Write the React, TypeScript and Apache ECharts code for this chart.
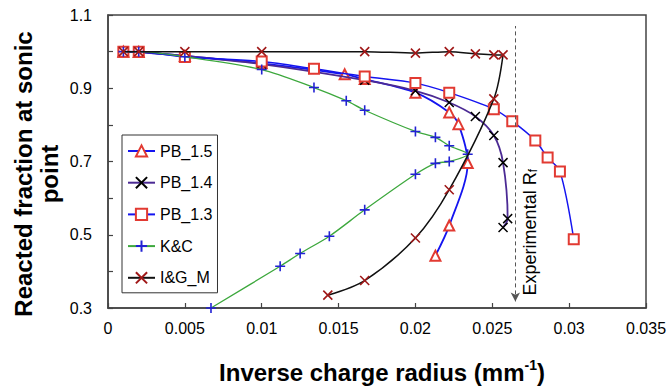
import React, { useEffect, useRef } from "react";
import * as echarts from "echarts";

// ---- data ----
const pb15X = [0.001, 0.002, 0.005, 0.01, 0.0154, 0.0167, 0.02, 0.0222, 0.0228, 0.0234, 0.0222, 0.0213];
const pb15Y = [1.0, 0.999, 0.988, 0.968, 0.938, 0.925, 0.888, 0.834, 0.802, 0.696, 0.525, 0.443];

const pb14X = [0.001, 0.002, 0.005, 0.01, 0.0167, 0.02, 0.0222, 0.0239, 0.0251, 0.0257, 0.026, 0.0257];
const pb14Y = [1.0, 0.999, 0.988, 0.966, 0.922, 0.893, 0.861, 0.823, 0.771, 0.697, 0.544, 0.52];

const pb13X = [0.001, 0.002, 0.005, 0.01, 0.0134, 0.0167, 0.02, 0.0222, 0.0251, 0.0263, 0.0278, 0.0286, 0.0294, 0.0303];
const pb13Y = [1.0, 1.0, 0.985, 0.973, 0.953, 0.932, 0.914, 0.888, 0.843, 0.81, 0.757, 0.711, 0.673, 0.488];

const kcX = [0.001, 0.002, 0.005, 0.01, 0.0134, 0.0155, 0.0167, 0.02, 0.0213, 0.0222, 0.0234, 0.0222, 0.0213, 0.02, 0.0167, 0.0144, 0.0125, 0.0112, 0.0067];
const kcY = [1.0, 1.0, 0.986, 0.951, 0.902, 0.866, 0.84, 0.782, 0.766, 0.743, 0.72, 0.7, 0.695, 0.665, 0.568, 0.496, 0.449, 0.414, 0.3];

const igX = [0.001, 0.002, 0.005, 0.01, 0.0167, 0.02, 0.0222, 0.0239, 0.0251, 0.0257, 0.0251, 0.0222, 0.02, 0.0167, 0.0143];
const igY = [1.0, 1.0, 1.0, 1.0, 1.0, 0.996, 1.0, 0.994, 0.991, 0.991, 0.871, 0.623, 0.491, 0.375, 0.335];

const seriesNames = ["PB_1.5", "PB_1.4", "PB_1.3", "K&C", "I&G_M"];
const yTickLabels = ["0.3", "0.5", "0.7", "0.9", "1.1"];

const rfX = 0.0265;
const rfYTop = 1.07;
const rfYBottom = 0.318;

const FONT = '"Liberation Sans", Arial, sans-serif';
const pair = (xs: number[], ys: number[]) => xs.map((x, i) => [x, ys[i]]);

const CROSS = "path://M0,0L10,10M10,0L0,10";
const PLUS = "path://M5,0L5,10M0,5L10,5";

export default function App() {
  const ref = useRef<HTMLDivElement>(null);
  useEffect(() => {
    if (!ref.current) return;
    const chart = echarts.init(ref.current, null, { renderer: "svg" });
    const red = "#E23A32";
    const option: any = {
      animation: false,
      backgroundColor: "#fff",
      grid: { left: 108, right: 26, top: 15, bottom: 78, show: true, borderColor: "#444", borderWidth: 1.5 },
      xAxis: {
        type: "value",
        min: 0,
        max: 0.035,
        interval: 0.005,
        axisLine: { show: true, lineStyle: { color: "#444", width: 1.5 } },
        axisTick: { show: true, inside: true, length: 5, lineStyle: { color: "#444", width: 1.2 } },
        axisLabel: { color: "#000", fontSize: 16, fontFamily: FONT, margin: 12 },
        splitLine: { show: false },
      },
      yAxis: {
        type: "value",
        min: 0.3,
        max: 1.1,
        interval: 0.1,
        axisLine: { show: true, lineStyle: { color: "#444", width: 1.5 } },
        axisTick: { show: true, inside: true, length: 5, lineStyle: { color: "#444", width: 1.2 } },
        axisLabel: {
          color: "#000",
          fontSize: 16,
          fontFamily: FONT,
          margin: 16,
          formatter: (v: number) => {
            const s = v.toFixed(1);
            return yTickLabels.includes(s) ? s : "";
          },
        },
        splitLine: { show: false },
      },
      legend: {
        orient: "vertical",
        left: 122,
        top: 135,
        data: seriesNames,
        backgroundColor: "#fff",
        borderColor: "#333",
        borderWidth: 1,
        padding: [8, 5, 7, 5],
        itemGap: 15.7,
        itemWidth: 27,
        itemHeight: 14,
        textStyle: { fontSize: 16, fontFamily: FONT, color: "#000" },
      },
      series: [
        {
          name: "PB_1.5",
          type: "line",
          data: pair(pb15X, pb15Y),
          smooth: 0.3,
          symbol: "emptyTriangle",
          symbolSize: 10,
          lineStyle: { color: "#1414F0", width: 1.8 },
          itemStyle: { color: red, borderColor: red, borderWidth: 1.3 },
          z: 2,
        },
        {
          name: "PB_1.4",
          type: "line",
          data: pair(pb14X, pb14Y),
          smooth: 0.3,
          symbol: CROSS,
          symbolSize: 9,
          lineStyle: { color: "#4B2A94", width: 1.8 },
          itemStyle: { color: "#000", borderColor: "#000", borderWidth: 1.5 },
          z: 3,
        },
        {
          name: "PB_1.3",
          type: "line",
          data: pair(pb13X, pb13Y),
          smooth: 0.3,
          symbol: "emptyRect",
          symbolSize: 10,
          lineStyle: { color: "#1414F0", width: 1.5 },
          itemStyle: { color: red, borderColor: red, borderWidth: 1.3 },
          z: 4,
          markLine: {
            silent: true,
            symbol: ["arrow", "none"],
            symbolSize: [7, 9],
            lineStyle: { color: "#555", type: [4, 3], width: 1 },
            label: {
              show: true,
              position: "insideStartBottom",
              distance: 6,
              formatter: "{a|Experimental R}{b|f}",
              rich: {
                a: { fontSize: 18, fontFamily: FONT, color: "#000" },
                b: { fontSize: 12, fontFamily: FONT, color: "#000", verticalAlign: "bottom" },
              },
            },
            data: [[{ coord: [rfX, rfYBottom] }, { coord: [rfX, rfYTop] }]],
          },
        },
        {
          name: "K&C",
          type: "line",
          data: pair(kcX, kcY),
          smooth: 0.3,
          symbol: PLUS,
          symbolSize: 10,
          lineStyle: { color: "#3DA83D", width: 1.3 },
          itemStyle: { color: "#2222D4", borderColor: "#2222D4", borderWidth: 1.6 },
          z: 5,
        },
        {
          name: "I&G_M",
          type: "line",
          data: pair(igX, igY),
          smooth: 0.3,
          symbol: CROSS,
          symbolSize: 9,
          lineStyle: { color: "#111", width: 1.5 },
          itemStyle: { color: "#A01818", borderColor: "#A01818", borderWidth: 1.6 },
          z: 6,
        },
      ],
      graphic: [
        {
          type: "text",
          x: 36,
          y: 174,
          rotation: Math.PI / 2,
          style: {
            text: "Reacted fraction at sonic\npoint",
            fontSize: 24,
            fontWeight: "bold",
            fontFamily: FONT,
            lineHeight: 26,
            align: "center",
            verticalAlign: "middle",
            fill: "#000",
          },
        },
        {
          type: "text",
          x: 382,
          y: 372,
          style: {
            text: "{a|Inverse charge radius (mm}{s|-1}{a|)}",
            align: "center",
            verticalAlign: "middle",
            rich: {
              a: { fontSize: 24, fontWeight: "bold", fontFamily: FONT, fill: "#000", lineHeight: 28 },
              s: { fontSize: 14, fontWeight: "bold", fontFamily: FONT, fill: "#000", verticalAlign: "top", lineHeight: 20 },
            },
          },
        },
      ],
    };
    chart.setOption(option);
    return () => chart.dispose();
  }, []);
  return (
    <div
      ref={ref}
      style={{ position: "absolute", left: 0, top: 0, width: 672, height: 386, background: "#fff" }}
    />
  );
}
